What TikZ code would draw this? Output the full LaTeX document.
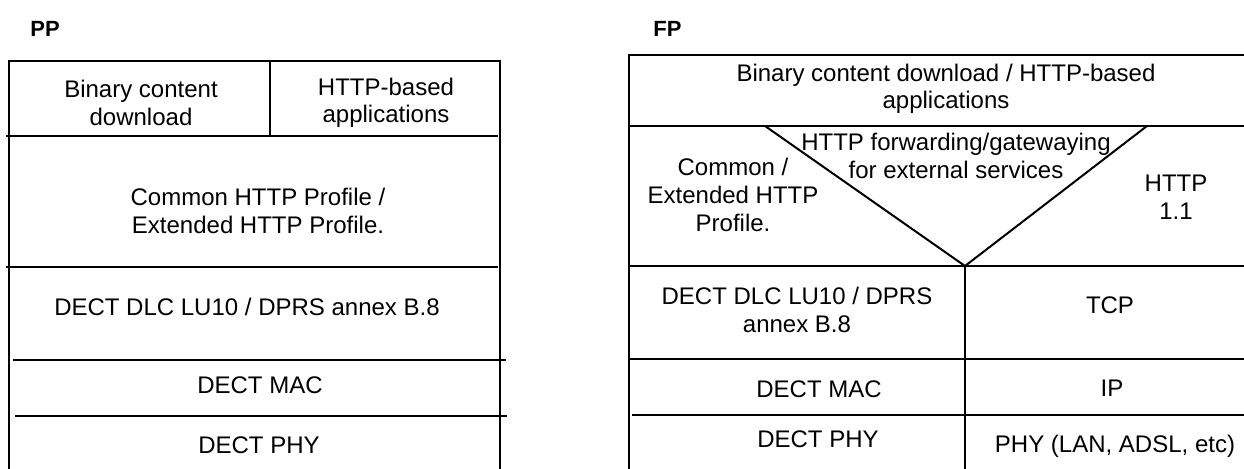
\documentclass[tikz,border=0pt]{standalone}
\usepackage{fontspec}
\setmainfont{Liberation Sans}
\usetikzlibrary{positioning}

\begin{document}
\begin{tikzpicture}[x=0.5pt, y=-0.5pt,
  rule/.style={line width=1pt},
  txt/.style={align=center, inner sep=0pt, font=\fontsize{12}{13.8}\selectfont},
  head/.style={anchor=west, inner sep=0pt, font=\fontsize{11}{13}\selectfont\bfseries}]
  \useasboundingbox (0,0) rectangle (1244,469);
  % PP stack
  \node[head] (pp) at (30,29) {PP};
  \draw[rule] (9,469) -- (9,61) -- (500,61) -- (500,469);
  \draw[rule] (270,61) -- (270,136);
  \foreach \y/\a/\b in {136/6/498, 267/6/498, 360/13/506, 416/15/507}
    \draw[rule] (\a,\y) -- (\b,\y);
  \node[txt] (ppbin)  at (141,103) {Binary content\\download};
  \node[txt] (ppapp)  at (386,103) {HTTP-based\\applications};
  \node[txt] (ppprof) at (258,211) {Common HTTP Profile /\\Extended HTTP Profile.};
  \foreach \n/\label/\x/\y in {
    ppdlc/{DECT DLC LU10 / DPRS annex B.8}/247/307,
    ppmac/DECT MAC/260/385, ppphy/DECT PHY/259/445}
    \node[txt] (\n) at (\x,\y) {\label};
  % FP stack
  \node[head] (fp) at (653,29) {FP};
  \draw[rule] (629,469) -- (629,55) -- (1244,55);
  \foreach \y/\a in {126/629, 266/629, 359/629, 415/632}
    \draw[rule] (\a,\y) -- (1244,\y);
  \draw[rule] (965,266) -- (965,469);
  % gateway wedge
  \coordinate (wedgeL) at (765,126);
  \coordinate (wedgeR) at (1147,126);
  \coordinate (apex) at (965,266);
  \draw[rule] (wedgeL) -- (apex) -- (wedgeR);
  \node[txt] (fpapp)  at (946,89)  {Binary content download / HTTP-based\\applications};
  \node[txt] (fpgw)   at (956,156) {HTTP forwarding/gatewaying\\for external services};
  \node[txt] (fpprof) at (733,195) {Common /\\Extended HTTP\\Profile.};
  \node[txt] (fphttp) at (1176,197) {HTTP\\1.1};
  \node[txt] (fpdlc)  at (797,310) {DECT DLC LU10 / DPRS\\annex B.8};
  \foreach \n/\label/\x/\y in {
    fptcp/TCP/1110/305, fpmac/DECT MAC/819/389, fpip/IP/1112/388,
    fpphy/DECT PHY/818/439, fplan/{PHY (LAN, ADSL, etc)}/1115/446}
    \node[txt] (\n) at (\x,\y) {\label};
\end{tikzpicture}
\end{document}
